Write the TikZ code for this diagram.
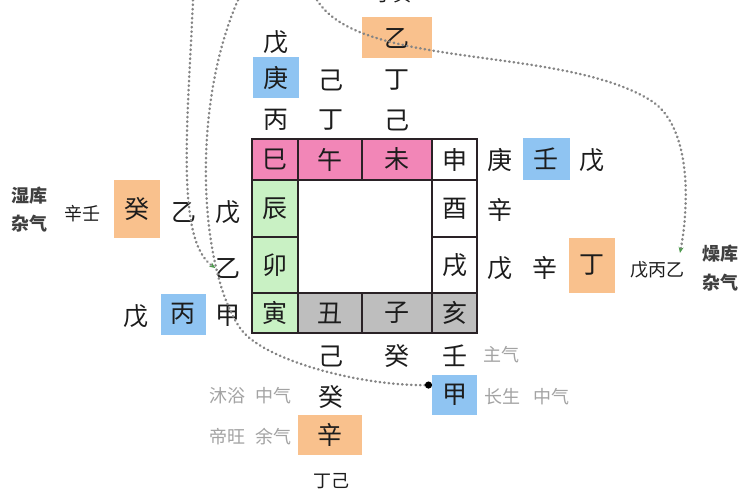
\documentclass[tikz,border=0pt]{standalone}
\usepackage{fontspec}
\newfontfamily\cjk{Noto Sans CJK SC}
\usetikzlibrary{arrows.meta}
\definecolor{pinkc}{HTML}{F286B7}
\definecolor{greenc}{HTML}{C9F1C4}
\definecolor{grayc}{HTML}{BEBEBE}
\definecolor{orangec}{HTML}{F9C18D}
\definecolor{bluec}{HTML}{8FC4F2}
\definecolor{labelc}{HTML}{A3A3A3}
\definecolor{linec}{HTML}{858585}
\definecolor{tipc}{HTML}{4E9A4E}
\definecolor{gridc}{HTML}{2A2226}
\definecolor{inkc}{HTML}{1C1C1C}
\begin{document}
\begin{tikzpicture}[x=1pt,y=-1pt,
  ch/.style={inner sep=0pt, font=\cjk\fontsize{25}{25}\selectfont, text=inkc},
  sm/.style={inner sep=0pt, font=\cjk\fontsize{18}{18}\selectfont, text=inkc},
  smb/.style={inner sep=0pt, font=\cjk\bfseries\fontsize{18}{18}\selectfont, text=black!75},
  lab/.style={inner sep=0pt, font=\cjk\fontsize{18}{18}\selectfont, text=labelc},
  cell/.style={ch, draw=gridc, line width=1.6pt},
  conn/.style={draw=linec, line width=2.5pt, dash pattern=on 0.5pt off 4pt, line cap=round},
  tipg/.style={-{Stealth[length=6pt,width=5pt,color=tipc]}},
  tipdot/.style={-{Circle[length=7pt,color=black]}}]
\useasboundingbox (0,0) rectangle (750,500);
\fill[white] (0,0) rectangle (750,500);

% ---- grid ----
\node[cell, fill=pinkc, minimum width=46pt, minimum height=41pt] (si) at (275,159.5) {巳};
\node[cell, fill=pinkc, minimum width=64pt, minimum height=41pt] (wu) at (330,159.5) {午};
\node[cell, fill=pinkc, minimum width=70pt, minimum height=41pt] (wei) at (397,159.5) {未};
\node[cell, fill=white, minimum width=45pt, minimum height=41pt] (shen) at (454.5,159.5) {申};
\node[cell, fill=greenc, minimum width=46pt, minimum height=57pt] (chen) at (275,208.5) {辰};
\node[cell, fill=white, minimum width=45pt, minimum height=57pt] (you) at (454.5,208.5) {酉};
\node[cell, fill=greenc, minimum width=46pt, minimum height=56pt] (mao) at (275,265) {卯};
\node[cell, fill=white, minimum width=45pt, minimum height=56pt] (xu) at (454.5,265) {戌};
\node[cell, fill=greenc, minimum width=46pt, minimum height=40pt] (yin) at (275,313) {寅};
\node[cell, fill=grayc, minimum width=64pt, minimum height=40pt] (chou) at (330,313) {丑};
\node[cell, fill=grayc, minimum width=70pt, minimum height=40pt] (zi) at (397,313) {子};
\node[cell, fill=grayc, minimum width=45pt, minimum height=40pt] (hai) at (454.5,313) {亥};

% ---- top ----
\node[sm] (topcut) at (393,-5) {丁癸};
\node[ch] (wuT) at (276,42) {戊};
\node[ch, fill=bluec, minimum width=46pt, minimum height=41pt] (gengB) at (276,78) {庚};
\node[ch] (bingT) at (276,120) {丙};
\node[ch] (jiT) at (331,80) {己};
\node[ch] (dingT) at (331,120) {丁};
\node[ch, fill=orangec, minimum width=70pt, minimum height=41pt] (yiB) at (397,38) {乙};
\node[ch] (dingT2) at (397,80) {丁};
\node[ch] (jiT2) at (397,120) {己};

% ---- right ----
\node[ch] (gengR) at (500,160) {庚};
\node[ch, fill=bluec, minimum width=47pt, minimum height=42pt] (renB) at (546,159) {壬};
\node[ch] (wuR) at (592,160) {戊};
\node[ch] (xinR) at (500,210) {辛};
\node[ch] (wuR2) at (500,268) {戊};
\node[ch] (xinR2) at (545,268) {辛};
\node[ch, fill=orangec, minimum width=46pt, minimum height=55pt] (dingB) at (592,265) {丁};
\node[sm] (wbyi) at (657,270) {戊丙乙};
\node[smb] (zaoku) at (720,254) {燥库};
\node[smb] (zaqiR) at (720,283) {杂气};

% ---- left ----
\node[smb] (shiku) at (29,196) {湿库};
\node[smb] (zaqiL) at (29,224) {杂气};
\node[sm] (xinren) at (82,214) {辛壬};
\node[ch, fill=orangec, minimum width=46pt, minimum height=57pt] (guiB) at (137,209) {癸};
\node[ch] (yiL1) at (184,212) {乙};
\node[ch] (wuL) at (228,212) {戊};
\node[ch] (yiL) at (228,268) {乙};
\node[ch] (jiaL) at (228,316) {甲};
\node[ch, fill=bluec, minimum width=45pt, minimum height=41pt] (bingB) at (183,314) {丙};
\node[ch] (wuL2) at (136,316) {戊};

% ---- bottom ----
\node[ch] (jiB) at (331,356) {己};
\node[ch] (guiC) at (397,356) {癸};
\node[ch] (renC) at (455,356) {壬};
\node[lab] (zhuqi) at (501,355) {主气};
\node[ch] (guiD) at (331,397) {癸};
\node[ch, fill=orangec, minimum width=64pt, minimum height=40pt] (xinB) at (330,435) {辛};
\node[ch, fill=bluec, minimum width=45pt, minimum height=40pt] (jiaB) at (454.5,395) {甲};
\node[lab] (changsheng) at (502,397) {长生};
\node[lab] (zhongqiR) at (551,397) {中气};
\node[lab] (muyu) at (227,396) {沐浴};
\node[lab] (zhongqiL) at (273,396) {中气};
\node[lab] (diwang) at (227,437) {帝旺};
\node[lab] (yuqi) at (273,437) {余气};
\node[sm] (dingji) at (331,481) {丁己};

% ---- connectors ----
\coordinate (startA) at (193,0);
\coordinate (startB) at (238,0);
\coordinate (bendB) at (240,328);
\coordinate (jiaDot) at (432,385);
\coordinate (startC) at (317,0);
\coordinate (bendC) at (650,100);
\coordinate (endC) at (680,253);

\draw[conn, tipg] (startA) .. controls (188,120) and (175,240) .. (yiL.west);
\draw[conn, tipdot] (startB) .. controls (190,110) and (200,270) .. (bendB)
      .. controls (262,360) and (360,386) .. (jiaDot);
\draw[conn, tipg] (startC) .. controls (360,70) and (560,45) .. (bendC)
      .. controls (690,124) and (690,200) .. (endC);
\end{tikzpicture}
\end{document}
